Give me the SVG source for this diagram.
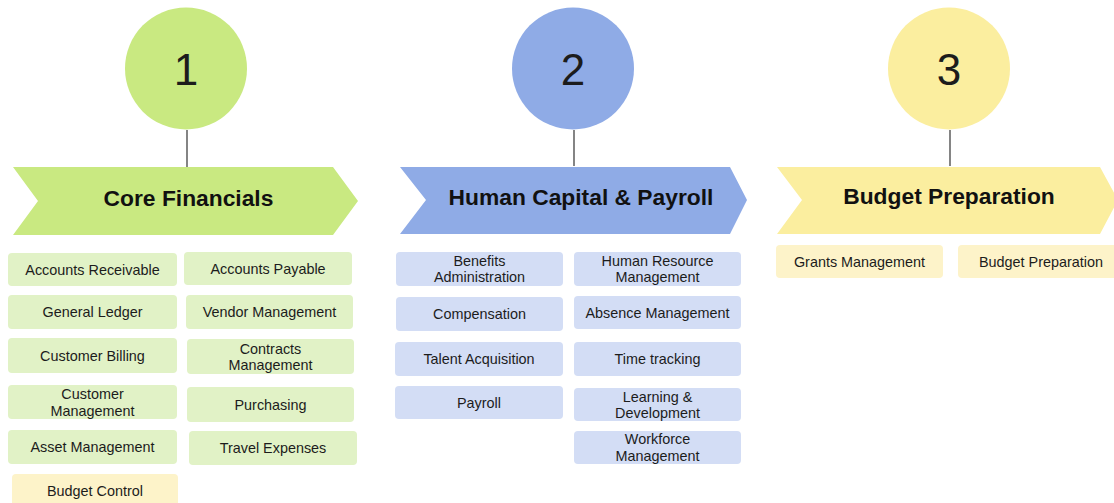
<svg xmlns="http://www.w3.org/2000/svg" width="1114" height="503" viewBox="0 0 1114 503">
  <style>
    text { font-family: "Liberation Sans", Arial, sans-serif; fill: #1c1c1c; text-anchor: middle; }
    .num { font-size: 44px; }
    .head { font-size: 22.8px; font-weight: bold; fill: #111; }
    .item { font-size: 14.4px; }
    .link { stroke: #333; stroke-width: 1.2; fill: none; }
    .g1 { fill: #c9e981; }
    .g2 { fill: #8fabe6; }
    .g3 { fill: #fbee9f; }
    .b1 { fill: #e1f2c6; }
    .b2 { fill: #d3ddf5; }
    .b3 { fill: #fdf3c9; }
  </style>

  <!-- connectors between number badges and section banners -->
  <g id="connectors">
    <line class="link" x1="187" y1="130" x2="187" y2="167"/>
    <line class="link" x1="574" y1="130" x2="574" y2="166"/>
    <line class="link" x1="950" y1="130" x2="950" y2="166"/>
  </g>

  <!-- section 1 -->
  <g id="badge-1">
    <circle class="g1" cx="186" cy="68.5" r="61"/>
    <text class="num" x="186" y="85">1</text>
  </g>
  <g id="banner-core-financials">
    <polygon class="g1" points="13,167 333,167 358,201 333,235 13,235 38,201"/>
    <text class="head" x="188.5" y="206">Core Financials</text>
  </g>
  <g id="accounts-receivable"><rect class="b1" x="8" y="253" width="169" height="33" rx="4"/><text class="item" x="92.5" y="274.5">Accounts Receivable</text></g>
  <g id="accounts-payable"><rect class="b1" x="184" y="252" width="168" height="33" rx="4"/><text class="item" x="268" y="273.5">Accounts Payable</text></g>
  <g id="general-ledger"><rect class="b1" x="8" y="295" width="169" height="34" rx="4"/><text class="item" x="92.5" y="317">General Ledger</text></g>
  <g id="vendor-management"><rect class="b1" x="186" y="295" width="167" height="34" rx="4"/><text class="item" x="269.5" y="317">Vendor Management</text></g>
  <g id="customer-billing"><rect class="b1" x="8" y="338" width="169" height="35" rx="4"/><text class="item" x="92.5" y="360.5">Customer Billing</text></g>
  <g id="contracts-management"><rect class="b1" x="187" y="339" width="167" height="35" rx="4"/><text class="item" x="270.5" y="353.5">Contracts</text><text class="item" x="270.5" y="370">Management</text></g>
  <g id="customer-management"><rect class="b1" x="8" y="385" width="169" height="34" rx="4"/><text class="item" x="92.5" y="399">Customer</text><text class="item" x="92.5" y="415.5">Management</text></g>
  <g id="purchasing"><rect class="b1" x="187" y="387" width="167" height="35" rx="4"/><text class="item" x="270.5" y="409.5">Purchasing</text></g>
  <g id="asset-management"><rect class="b1" x="8" y="430" width="169" height="34" rx="4"/><text class="item" x="92.5" y="452">Asset Management</text></g>
  <g id="travel-expenses"><rect class="b1" x="189" y="431" width="168" height="34" rx="4"/><text class="item" x="273" y="453">Travel Expenses</text></g>
  <g id="budget-control"><rect class="b3" x="12" y="474" width="166" height="34" rx="4"/><text class="item" x="95" y="496">Budget Control</text></g>

  <!-- section 2 -->
  <g id="badge-2">
    <circle class="g2" cx="573" cy="68.5" r="61"/>
    <text class="num" x="573" y="85">2</text>
  </g>
  <g id="banner-human-capital">
    <polygon class="g2" points="400,167 730,167 747,200 730,234 400,234 426,200"/>
    <text class="head" x="581" y="205">Human Capital &amp; Payroll</text>
  </g>
  <g id="benefits-administration"><rect class="b2" x="396" y="252" width="167" height="34" rx="4"/><text class="item" x="479.5" y="266">Benefits</text><text class="item" x="479.5" y="282">Administration</text></g>
  <g id="human-resource-management"><rect class="b2" x="574" y="252" width="167" height="34" rx="4"/><text class="item" x="657.5" y="266">Human Resource</text><text class="item" x="657.5" y="282">Management</text></g>
  <g id="compensation"><rect class="b2" x="396" y="297" width="167" height="34" rx="4"/><text class="item" x="479.5" y="319">Compensation</text></g>
  <g id="absence-management"><rect class="b2" x="574" y="296" width="167" height="33" rx="4"/><text class="item" x="657.5" y="317.5">Absence Management</text></g>
  <g id="talent-acquisition"><rect class="b2" x="395" y="342" width="168" height="34" rx="4"/><text class="item" x="479" y="364">Talent Acquisition</text></g>
  <g id="time-tracking"><rect class="b2" x="574" y="342" width="167" height="34" rx="4"/><text class="item" x="657.5" y="364">Time tracking</text></g>
  <g id="payroll"><rect class="b2" x="395" y="386" width="168" height="33" rx="4"/><text class="item" x="479" y="408">Payroll</text></g>
  <g id="learning-development"><rect class="b2" x="574" y="388" width="167" height="33" rx="4"/><text class="item" x="657.5" y="401.5">Learning &amp;</text><text class="item" x="657.5" y="418">Development</text></g>
  <g id="workforce-management"><rect class="b2" x="574" y="431" width="167" height="33" rx="4"/><text class="item" x="657.5" y="444">Workforce</text><text class="item" x="657.5" y="460.5">Management</text></g>

  <!-- section 3 -->
  <g id="badge-3">
    <circle class="g3" cx="949" cy="68.5" r="61"/>
    <text class="num" x="949" y="85">3</text>
  </g>
  <g id="banner-budget-preparation">
    <polygon class="g3" points="777,167 1100,167 1118,200 1100,234 777,234 802,200"/>
    <text class="head" x="949" y="204">Budget Preparation</text>
  </g>
  <g id="grants-management"><rect class="b3" x="776" y="245" width="167" height="33" rx="4"/><text class="item" x="859.5" y="266.5">Grants Management</text></g>
  <g id="budget-preparation"><rect class="b3" x="958" y="245" width="167" height="33" rx="4"/><text class="item" x="1041" y="266.5">Budget Preparation</text></g>
</svg>
